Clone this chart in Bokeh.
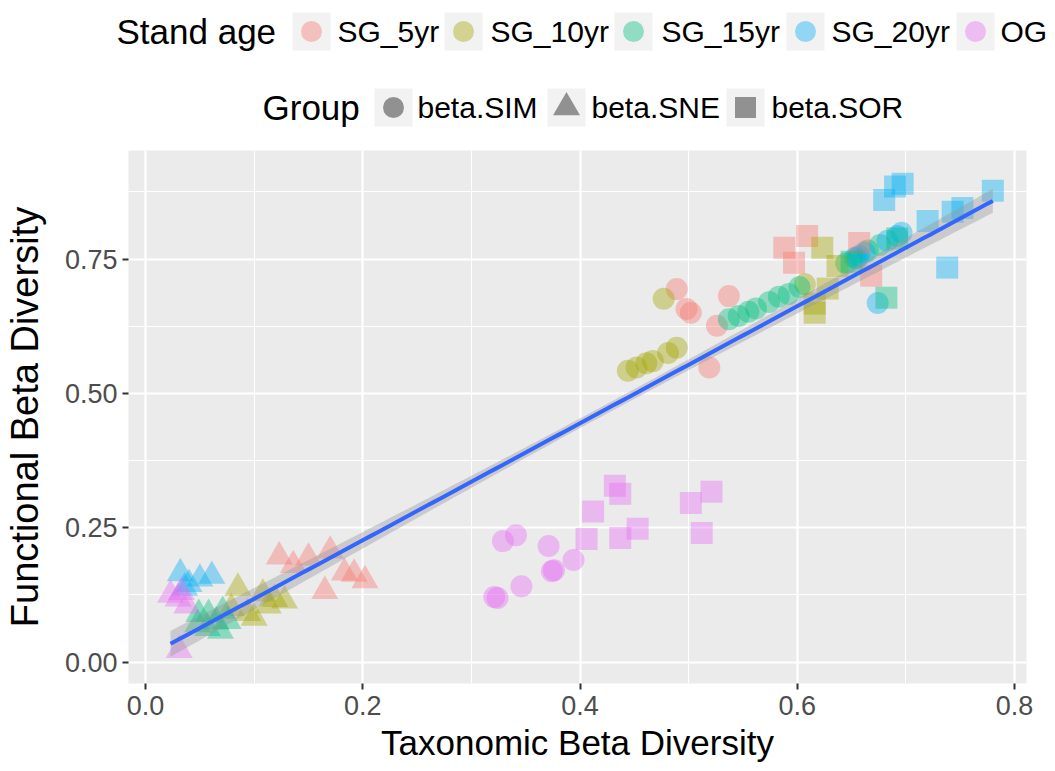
import numpy as np
from bokeh.plotting import figure
from bokeh.models import Range1d, FixedTicker, PrintfTickFormatter, ColumnDataSource
from bokeh.core.properties import value
from bokeh.embed import file_html
from bokeh.resources import INLINE

FONT = "Liberation Sans"

# ---- categories -----------------------------------------------------------
stand_ages = ["SG_5yr", "SG_10yr", "SG_15yr", "SG_20yr", "OG"]
age_colors = ["#F8766D", "#A3A500", "#00BF7D", "#00B0F6", "#E76BF3"]
groups = ["beta.SIM", "beta.SNE", "beta.SOR"]
group_markers = ["circle", "triangle", "square"]

# ---- beta.SIM (turnover) --------------------------------------------------
sim_tax = [0.489, 0.498, 0.502, 0.519, 0.537, 0.526,
           0.444, 0.452, 0.461, 0.467, 0.481, 0.489, 0.477, 0.607,
           0.537, 0.546, 0.555, 0.562, 0.574, 0.583, 0.592, 0.602, 0.645, 0.655, 0.665, 0.676,
           0.653, 0.657, 0.683, 0.692, 0.696, 0.674, 0.662,
           0.321, 0.324, 0.329, 0.341, 0.346, 0.371, 0.374, 0.376, 0.394]
sim_fun = [0.694, 0.657, 0.650, 0.548, 0.681, 0.626,
           0.542, 0.548, 0.556, 0.560, 0.575, 0.585, 0.676, 0.703,
           0.638, 0.644, 0.652, 0.658, 0.670, 0.680, 0.685, 0.698, 0.742, 0.752, 0.766, 0.776,
           0.752, 0.756, 0.784, 0.793, 0.799, 0.668, 0.762,
           0.121, 0.119, 0.225, 0.236, 0.141, 0.216, 0.169, 0.171, 0.190]
sim_age = (["SG_5yr"] * 6 + ["SG_10yr"] * 8 + ["SG_15yr"] * 12
           + ["SG_20yr"] * 7 + ["OG"] * 9)

# ---- beta.SNE (nestedness) ------------------------------------------------
sne_tax = [0.123, 0.136, 0.150, 0.170, 0.165, 0.183, 0.192, 0.202,
           0.079, 0.085, 0.094, 0.100, 0.108, 0.119, 0.128, 0.113,
           0.048, 0.049, 0.057, 0.058, 0.069, 0.071, 0.076, 0.065,
           0.032, 0.050, 0.061, 0.040, 0.036,
           0.023, 0.033, 0.038, 0.030, 0.031]
sne_fun = [0.196, 0.180, 0.194, 0.207, 0.132, 0.166, 0.164, 0.152,
           0.100, 0.138, 0.091, 0.082, 0.127, 0.117, 0.114, 0.105,
           0.070, 0.089, 0.063, 0.089, 0.058, 0.095, 0.076, 0.075,
           0.165, 0.155, 0.160, 0.145, 0.138,
           0.125, 0.130, 0.105, 0.118, 0.022]
sne_age = (["SG_5yr"] * 8 + ["SG_10yr"] * 8 + ["SG_15yr"] * 8
           + ["SG_20yr"] * 5 + ["OG"] * 5)

# ---- beta.SOR (total) -----------------------------------------------------
sor_tax = [0.588, 0.609, 0.597, 0.657, 0.668,
           0.623, 0.616, 0.616, 0.628, 0.637,
           0.682, 0.692, 0.650,
           0.680, 0.690, 0.697, 0.720, 0.743, 0.752, 0.780, 0.738,
           0.432, 0.437, 0.412, 0.406, 0.437, 0.453, 0.502, 0.521, 0.512]
sor_fun = [0.771, 0.793, 0.743, 0.780, 0.719,
           0.771, 0.667, 0.650, 0.695, 0.737,
           0.678, 0.788, 0.745,
           0.860, 0.885, 0.890, 0.821, 0.838, 0.845, 0.877, 0.734,
           0.328, 0.313, 0.280, 0.229, 0.231, 0.248, 0.296, 0.317, 0.240]
sor_age = (["SG_5yr"] * 5 + ["SG_10yr"] * 5 + ["SG_15yr"] * 3
           + ["SG_20yr"] * 8 + ["OG"] * 9)

# ---- linear fit with its 95% band ----------------------------------------
fit_slope = 1.089
fit_intercept = 0.0088
fit_x_range = (0.023, 0.780)
band_center_x = 0.42
band_halfwidth_center = 0.009
band_halfwidth_slope = 0.0563

x_ticks = [0.0, 0.2, 0.4, 0.6, 0.8]
x_minor = [0.1, 0.3, 0.5, 0.7]
y_ticks = [0.0, 0.25, 0.5, 0.75]
y_minor = [0.125, 0.375, 0.625, 0.875]

# ---- assemble one source for all points ----------------------------------
color_of = dict(zip(stand_ages, age_colors))
tax, fun, col, mk = [], [], [], []
for g_tax, g_fun, g_age, marker in [(sim_tax, sim_fun, sim_age, "circle"),
                                    (sne_tax, sne_fun, sne_age, "triangle"),
                                    (sor_tax, sor_fun, sor_age, "square")]:
    tax += g_tax
    fun += g_fun
    col += [color_of[a] for a in g_age]
    mk += [marker] * len(g_tax)
src = ColumnDataSource(dict(x=tax, y=fun, color=col, marker=mk,
                            size=[27 if m == "triangle" else 22 for m in mk]))

# ---- main panel -----------------------------------------------------------
p = figure(width=1055, height=621, output_backend="svg", toolbar_location=None,
           x_range=Range1d(-0.0157, 0.811), y_range=Range1d(-0.04, 0.952),
           min_border_left=128, min_border_right=29, min_border_top=0,
           min_border_bottom=88)
p.background_fill_color = "#EBEBEB"
p.border_fill_color = "white"
p.outline_line_color = None

p.scatter(x="x", y="y", source=src, marker="marker", size="size",
          fill_color="color", fill_alpha=0.4, line_color=None)

fx = np.linspace(fit_x_range[0], fit_x_range[1], 120)
fy = fit_intercept + fit_slope * fx
hw = np.sqrt(band_halfwidth_center ** 2 + (band_halfwidth_slope * (fx - band_center_x)) ** 2)
p.varea(x=fx, y1=fy - hw, y2=fy + hw, fill_color="#999999", fill_alpha=0.4)
p.line(fx, fy, line_color="#3366FF", line_width=4)

p.xaxis.ticker = FixedTicker(ticks=x_ticks, minor_ticks=x_minor)
p.yaxis.ticker = FixedTicker(ticks=y_ticks, minor_ticks=y_minor)
p.xaxis.formatter = PrintfTickFormatter(format="%.1f")
p.yaxis.formatter = PrintfTickFormatter(format="%.2f")

for g in (p.xgrid, p.ygrid):
    g.grid_line_color = "white"
    g.grid_line_width = 2.2
    g.minor_grid_line_color = "white"
    g.minor_grid_line_width = 1.1

for ax in (p.xaxis, p.yaxis):
    ax.axis_line_color = None
    ax.minor_tick_line_color = None
    ax.major_tick_line_color = "#333333"
    ax.major_tick_line_width = 2
    ax.major_tick_out = 6
    ax.major_tick_in = 0
    ax.major_label_text_font = FONT
    ax.major_label_text_font_size = "27px"
    ax.major_label_text_color = "#4D4D4D"
    ax.axis_label_text_font = FONT
    ax.axis_label_text_font_style = "normal"
    ax.axis_label_text_color = "black"

p.xaxis.axis_label = "Taxonomic Beta Diversity"
p.yaxis.axis_label = "Functional Beta Diversity"
p.xaxis.axis_label_text_font_size = "35px"
p.yaxis.axis_label_text_font_size = "38px"
p.xaxis.major_label_standoff = 6
p.xaxis.axis_label_standoff = 5
p.yaxis.major_label_standoff = 5
p.yaxis.axis_label_standoff = 16

# ---- legend strip above the panel (its own canvas, pixel coordinates) ----
leg = figure(width=1055, height=150, output_backend="svg", toolbar_location=None,
             x_range=Range1d(0, 1055), y_range=Range1d(150, 0),
             min_border_left=0, min_border_right=0, min_border_top=0,
             min_border_bottom=0)
leg.axis.visible = False
leg.grid.visible = False
leg.outline_line_color = None
leg.background_fill_color = "white"
leg.border_fill_color = "white"

row1_y, row2_y = 31, 107
age_key_x = [311, 463, 633, 805, 975]
age_label_x = [337, 490, 661, 831, 1000]
group_key_x = [393, 566, 745]
group_label_x = [417, 591, 771]
key_box = 38

leg.text(x=[116], y=[row1_y], text=["Stand age"], text_font=value(FONT),
         text_font_size="35px", text_baseline="middle", text_color="black")
leg.rect(x=age_key_x, y=[row1_y] * 5, width=key_box, height=key_box,
         fill_color="#F2F2F2", line_color=None)
leg.scatter(x=age_key_x, y=[row1_y] * 5, marker="circle", size=21,
            fill_color=age_colors, fill_alpha=0.4, line_color=None)
leg.text(x=age_label_x, y=[row1_y] * 5, text=stand_ages, text_font=value(FONT),
         text_font_size="30px", text_baseline="middle", text_color="black")

leg.text(x=[262], y=[row2_y], text=["Group"], text_font=value(FONT),
         text_font_size="35px", text_baseline="middle", text_color="black")
leg.rect(x=group_key_x, y=[row2_y] * 3, width=key_box, height=key_box,
         fill_color="#F2F2F2", line_color=None)
leg.scatter(x=group_key_x, y=[row2_y] * 3, marker=group_markers, size=[21, 27, 21],
            fill_color="black", fill_alpha=0.4, line_color=None)
leg.text(x=group_label_x, y=[row2_y] * 3, text=groups, text_font=value(FONT),
         text_font_size="30px", text_baseline="middle", text_color="black")

# two stacked roots: the legend strip, then the panel
open("out.html", "w").write(file_html([leg, p], INLINE))
